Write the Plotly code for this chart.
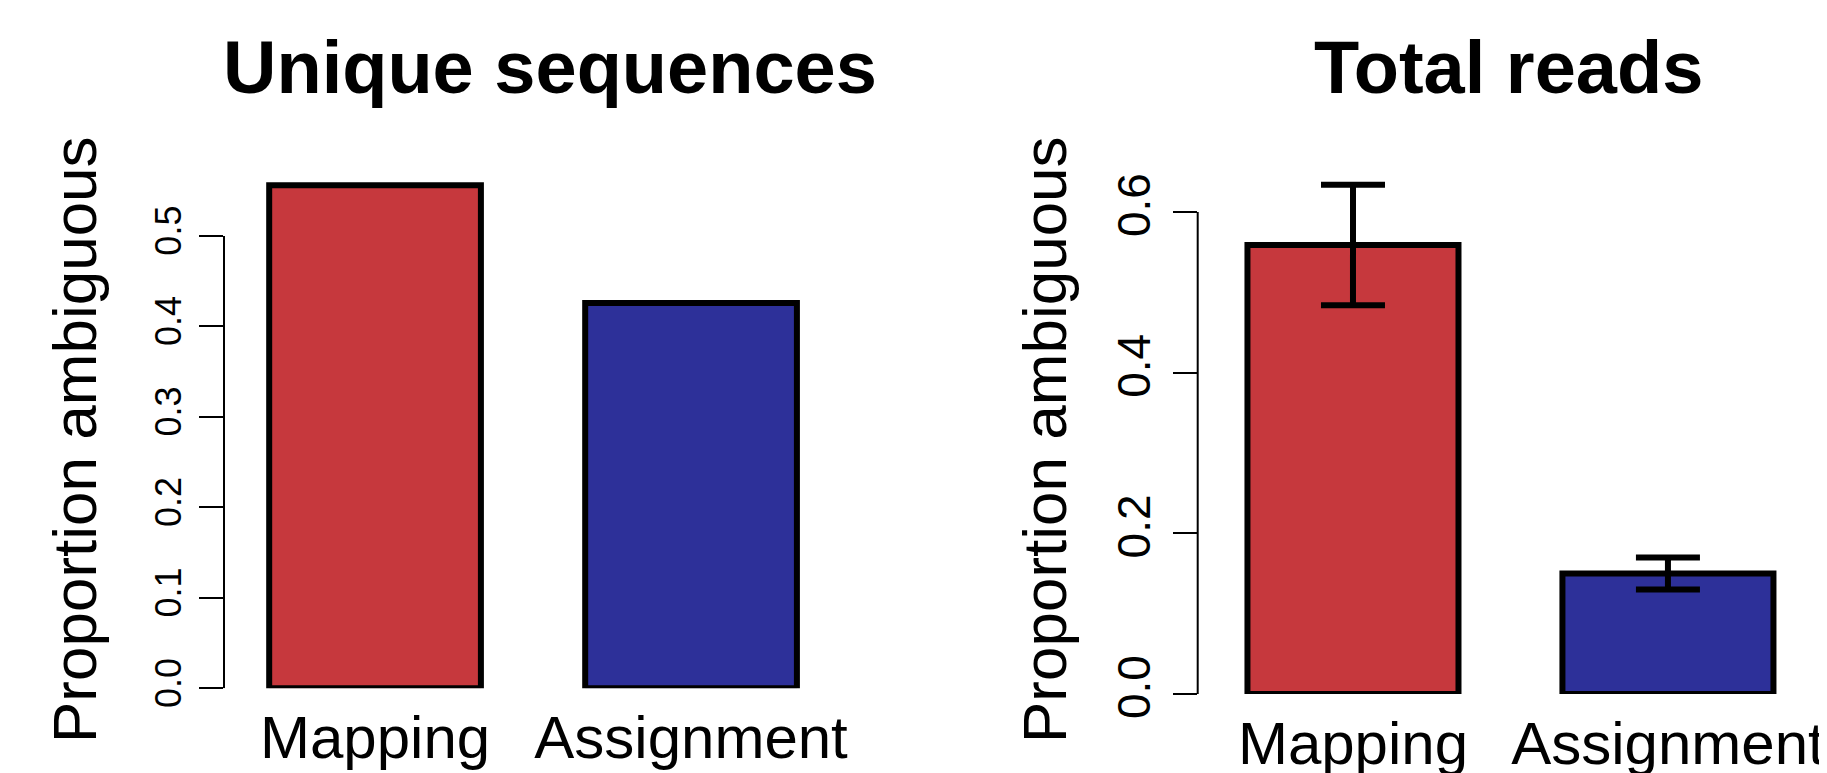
import plotly.graph_objects as go

# ---- data ----
categories = ["Mapping", "Assignment"]
unique_values = [0.556, 0.426]
total_values = [0.559, 0.150]
total_errors = [0.075, 0.020]
bar_colors = ["#C6383D", "#2D3099"]
left_ticks = [0.0, 0.1, 0.2, 0.3, 0.4, 0.5]
right_ticks = [0.0, 0.2, 0.4, 0.6]
panel_titles = ["Unique sequences", "Total reads"]
y_title = "Proportion ambiguous"

# ---- layout helpers (window pixels -> paper) ----
# the page body has an 8px default margin, so the figure is drawn 8px in
OFF = 8
W, H = 1827 - OFF, 773 - OFF
FONT = "Liberation Sans, Arial, Helvetica, sans-serif"


def px_x(p):
    return (p - OFF) / W


def px_y(p):
    return 1 - (p - OFF) / H


fig = go.Figure()

bar_marker = dict(color=bar_colors, line=dict(color="black", width=6))

fig.add_trace(go.Bar(
    x=categories, y=unique_values, marker=bar_marker, width=0.67,
    cliponaxis=False, xaxis="x", yaxis="y", hoverinfo="x+y"))

fig.add_trace(go.Bar(
    x=categories, y=total_values, marker=bar_marker, width=0.67,
    error_y=dict(type="data", array=total_errors, visible=True,
                 color="black", thickness=6, width=32),
    cliponaxis=False, xaxis="x2", yaxis="y2", hoverinfo="x+y"))

# left panel geometry (window pixels)
L_ax, L_right = 224, 850
L_zero, L_top = 688.3, 127.45
L_yr = [0, 0.62]
# right panel geometry
R_ax, R_right = 1197.7, 1827
R_zero, R_top = 694, 115.6
R_yr = [0, 0.72]

xcommon = dict(showgrid=False, zeroline=False, showline=False, ticks="",
               automargin=False, ticklabelstandoff=9,
               tickfont=dict(family=FONT, size=60, color="black"),
               fixedrange=True)
ycommon = dict(showgrid=False, zeroline=False, showline=False,
               automargin=False, ticklabelstandoff=4,
               ticks="outside", ticklen=24, tickwidth=2, tickcolor="black",
               tickangle=-90, tickformat=".1f", fixedrange=True)

fig.update_layout(
    width=W, height=H, autosize=False,
    margin=dict(l=0, r=0, t=0, b=0, pad=0),
    paper_bgcolor="white", plot_bgcolor="white",
    showlegend=False,
    xaxis=dict(domain=[px_x(L_ax), px_x(L_right)], range=[-0.478, 1.503],
               anchor="y", **xcommon),
    yaxis=dict(domain=[px_y(L_zero), px_y(L_top)], range=L_yr, anchor="x",
               tickvals=left_ticks,
               tickfont=dict(family=FONT, size=36, color="black"), **ycommon),
    xaxis2=dict(domain=[px_x(R_ax), px_x(R_right)], range=[-0.493, 1.505],
                anchor="y2", **xcommon),
    yaxis2=dict(domain=[px_y(R_zero), px_y(R_top)], range=R_yr, anchor="x2",
                tickvals=right_ticks,
                tickfont=dict(family=FONT, size=46, color="black"), **ycommon),
)

# axis spines spanning only the tick range (R style)
fig.add_shape(type="line", xref="x domain", x0=0, x1=0, yref="y",
              y0=left_ticks[0], y1=left_ticks[-1],
              line=dict(color="black", width=2))
fig.add_shape(type="line", xref="x2 domain", x0=0, x1=0, yref="y2",
              y0=right_ticks[0], y1=right_ticks[-1],
              line=dict(color="black", width=2))

# panel titles
for title, cx in zip(panel_titles, [550, 1508]):
    fig.add_annotation(text=title, xref="paper", yref="paper",
                       x=px_x(cx), y=px_y(68), xanchor="center",
                       yanchor="middle", showarrow=False,
                       font=dict(family=FONT, size=74, color="black",
                                 weight="bold"))

# y-axis titles
for cx in [74, 1044]:
    fig.add_annotation(text=y_title, xref="paper", yref="paper",
                       x=px_x(cx), y=px_y(440), xanchor="center",
                       yanchor="middle", textangle=-90, showarrow=False,
                       font=dict(family=FONT, size=62, color="black"))

fig.write_html("out.html", config={"displayModeBar": False})
